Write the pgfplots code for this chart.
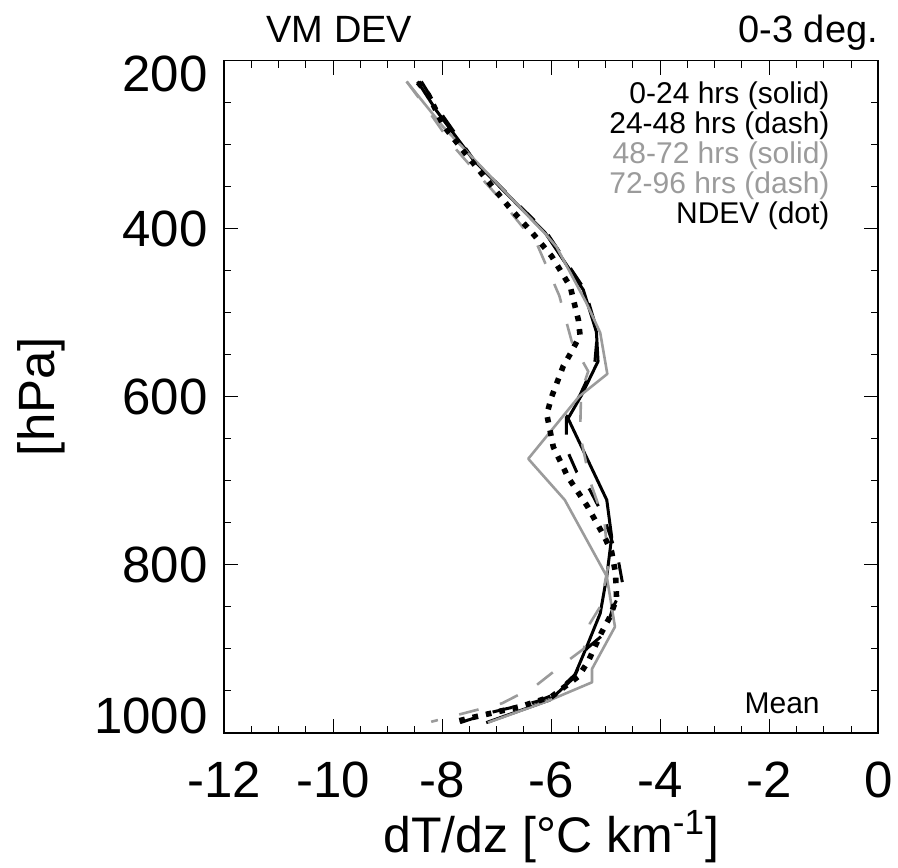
\documentclass[border=0pt]{standalone}
\usepackage{fontspec}
\setmainfont{Liberation Sans}
\usepackage{pgfplots}
\pgfplotsset{compat=1.18}
\definecolor{lgray}{RGB}{155,155,155}
\begin{document}
\begin{tikzpicture}
\begin{axis}[
  width=327.15pt, height=336.1pt, scale only axis,
  xmin=-12, xmax=0, ymin=200, ymax=1000, y dir=reverse,
  xtick={-12,-10,-8,-6,-4,-2,0}, xticklabels={-12,-10,-8,-6,-4,-2,0},
  ytick={200,400,600,800,1000},
  yticklabels={\raisebox{-15.6pt}[0pt][0pt]{200},400,600,800,\raisebox{-0.6pt}[0pt][0pt]{1000}},
  minor x tick num=3, minor y tick num=3,
  major tick length=7pt, minor tick length=3.5pt,
  tick style={black, line width=0.5pt},
  axis line style={line width=0.9pt},
  tick label style={font=\fontsize{25.5}{26}\selectfont},
  xticklabel style={inner sep=0pt, anchor=north, yshift=-14.5pt},
  yticklabel style={inner sep=0pt, anchor=east, xshift=-8pt},
  xlabel={dT/dz [°C km\textsuperscript{-1}]},
  ylabel={[hPa]},
  xlabel style={at={(axis description cs:0.5,-0.1785)}, anchor=base, inner sep=0pt, font=\fontsize{25}{26}\selectfont},
  ylabel style={at={(axis description cs:-0.2797,0.5)}, anchor=center, inner sep=0pt, font=\fontsize{25.5}{26}\selectfont},
  no markers, clip mode=individual,
]
% 0-24 hrs (black solid)
\addplot[black, line width=1.5pt, line join=round] coordinates {
(-8.45,225) (-8.10,260) (-7.43,318) (-6.11,405) (-5.41,473) (-5.17,523) (-5.14,558)
(-5.44,598) (-5.69,626) (-4.98,723) (-4.89,767) (-4.98,814) (-5.10,858) (-5.35,898)
(-5.59,935) (-6.02,961) (-7.19,988)};
% 24-48 hrs (black dash)
\addplot[black, line width=1.5pt, dash pattern=on 10pt off 10pt] coordinates {
(-8.38,225) (-8.05,260) (-7.40,320) (-6.08,405) (-5.38,473) (-5.15,523) (-5.20,560)
(-5.47,598) (-5.72,625) (-5.72,662) (-5.53,690) (-5.29,711) (-5.05,741) (-4.93,763)
(-4.77,794) (-4.68,826) (-4.86,850) (-5.02,882) (-5.35,900) (-5.55,930) (-5.96,955)
(-6.27,963) (-7.05,975) (-7.67,988)};
% 48-72 hrs (gray solid)
\addplot[lgray, line width=1.3pt, line join=round] coordinates {
(-8.65,225) (-7.98,279) (-6.11,406) (-5.90,422) (-5.35,489) (-5.10,524) (-4.97,573)
(-5.49,600) (-6.42,674) (-5.75,723) (-4.98,814) (-4.83,874) (-5.25,924) (-5.25,940)
(-6.05,962) (-7.16,988)};
% 72-96 hrs (gray dash)
\addplot[lgray, line width=1.3pt, dash pattern=on 10pt off 11pt] coordinates {
(-8.65,225) (-8.25,260) (-7.82,300) (-7.35,335) (-7.00,360) (-6.25,420) (-5.85,480)
(-5.62,535) (-5.32,570) (-5.45,595) (-5.47,645) (-5.29,700) (-5.02,750) (-4.95,800)
(-5.10,850) (-5.29,870) (-5.40,900) (-5.81,920) (-6.30,945) (-6.90,965) (-8.20,987)};
% NDEV (black dot)
\addplot[black, line width=2.8pt, dash pattern=on 2.8pt off 4pt] coordinates {
(-8.44,226) (-8.25,241) (-7.98,277) (-7.58,310) (-7.18,342) (-6.79,373) (-6.36,404)
(-5.99,433) (-5.65,469) (-5.50,509) (-5.47,527) (-5.63,547) (-5.78,564) (-5.99,600)
(-6.08,621) (-5.96,660) (-5.69,696) (-5.34,730) (-5.03,766) (-4.89,785) (-4.82,810)
(-4.80,840) (-4.92,862) (-5.07,880) (-5.20,898) (-5.32,915) (-5.50,933) (-5.99,957)
(-6.57,969) (-7.52,983) (-7.82,988)};
% title texts
\node[anchor=base, inner sep=0pt, font=\fontsize{19}{20}\selectfont] at (axis description cs:0.1765,1.0275) {VM DEV};
\node[anchor=base east, inner sep=0pt, font=\fontsize{19}{20}\selectfont] at (axis description cs:1.0,1.0275) {0-3 deg.};
% legend texts
\node[anchor=base east, inner sep=0pt, font=\fontsize{15}{16}\selectfont, text=black] at (axis description cs:0.926,0.936) {0-24 hrs (solid)};
\node[anchor=base east, inner sep=0pt, font=\fontsize{15}{16}\selectfont, text=black] at (axis description cs:0.926,0.8914) {24-48 hrs (dash)};
\node[anchor=base east, inner sep=0pt, font=\fontsize{15}{16}\selectfont, text=lgray] at (axis description cs:0.926,0.8468) {48-72 hrs (solid)};
\node[anchor=base east, inner sep=0pt, font=\fontsize{15}{16}\selectfont, text=lgray] at (axis description cs:0.926,0.8021) {72-96 hrs (dash)};
\node[anchor=base east, inner sep=0pt, font=\fontsize{15}{16}\selectfont, text=black] at (axis description cs:0.926,0.7575) {NDEV (dot)};
\node[anchor=base east, inner sep=0pt, font=\fontsize{15}{16}\selectfont] at (axis description cs:0.911,0.0293) {Mean};
\end{axis}
\pgfresetboundingbox
\path ([xshift=-112pt,yshift=-67.15pt]current axis.south west) rectangle ([xshift=9.85pt,yshift=30.25pt]current axis.north east);
\end{tikzpicture}
\end{document}
